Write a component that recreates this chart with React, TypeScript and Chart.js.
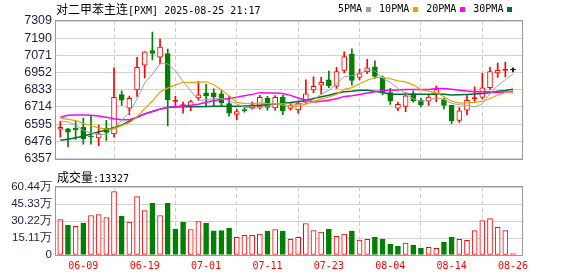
import React, { useEffect, useRef } from 'react';
import { Chart, registerables } from 'chart.js';

Chart.register(...registerables);

// ---------- data ----------
const dates = [
  '06-04', '06-05', '06-06', '06-09', '06-10', '06-11', '06-12', '06-13', '06-16', '06-17',
  '06-18', '06-19', '06-20', '06-23', '06-24', '06-25', '06-26', '06-27', '06-30', '07-01',
  '07-02', '07-03', '07-04', '07-07', '07-08', '07-09', '07-10', '07-11', '07-14', '07-15',
  '07-16', '07-17', '07-18', '07-21', '07-22', '07-23', '07-24', '07-25', '07-28', '07-29',
  '07-30', '07-31', '08-01', '08-04', '08-05', '08-06', '08-07', '08-08', '08-11', '08-12',
  '08-13', '08-14', '08-15', '08-18', '08-19', '08-20', '08-21', '08-22', '08-25', '08-26',
];
const opens = [
  6560, 6562, 6566, 6573, 6511, 6500, 6566, 6527, 6800, 6705,
  6831, 7003, 7104, 7058, 7084, 6752, 6723, 6716, 6776, 6811,
  6811, 6804, 6738, 6663, 6692, 6708, 6714, 6773, 6708, 6780,
  6703, 6694, 6747, 6831, 6864, 6901, 6857, 6967, 7078, 6919,
  6956, 6992, 6914, 6813, 6705, 6718, 6804, 6760, 6754, 6802,
  6765, 6725, 6621, 6692, 6772, 6780, 6848, 6950, 6967, 6970,
];
const highs = [
  6615, 6566, 6615, 6636, 6650, 6588, 6621, 6985, 6826, 6789,
  7058, 7097, 7232, 7183, 7114, 6787, 6747, 6760, 6892, 6870,
  6840, 6826, 6787, 6699, 6710, 6747, 6795, 6787, 6793, 6795,
  6743, 6747, 6901, 6923, 6919, 6963, 6989, 7095, 7117, 6978,
  7044, 7033, 6930, 6842, 6747, 6813, 6826, 6776, 6798, 6859,
  6776, 6725, 6710, 6793, 6853, 6947, 6989, 7018, 7025, 6985,
];
const lows = [
  6505, 6438, 6489, 6456, 6456, 6445, 6482, 6505, 6725, 6660,
  6787, 6915, 7040, 7011, 6582, 6725, 6670, 6688, 6760, 6714,
  6716, 6716, 6650, 6626, 6677, 6699, 6699, 6692, 6692, 6661,
  6692, 6670, 6738, 6813, 6800, 6848, 6842, 6952, 6864, 6901,
  6945, 6912, 6798, 6732, 6688, 6681, 6747, 6716, 6725, 6751,
  6699, 6599, 6606, 6661, 6754, 6769, 6835, 6919, 6923, 6956,
];
const closes = [
  6573, 6540, 6555, 6494, 6506, 6527, 6538, 6780, 6760, 6773,
  6989, 7095, 7084, 7128, 6765, 6753, 6727, 6751, 6797, 6790,
  6785, 6743, 6670, 6681, 6689, 6729, 6780, 6710, 6780, 6688,
  6727, 6741, 6804, 6857, 6884, 6859, 6959, 7062, 6897, 6945,
  6985, 6926, 6813, 6758, 6732, 6791, 6758, 6729, 6782, 6835,
  6725, 6617, 6687, 6760, 6776, 6846, 6959, 6967, 6969, 6970,
];
const volumes = [
  315000, 265000, 254000, 283000, 351000, 360000, 333000, 563000, 345000, 292000,
  519000, 395000, 460000, 351000, 460000, 230000, 292000, 227000, 298000, 283000,
  215000, 218000, 239000, 156000, 174000, 174000, 186000, 212000, 227000, 212000,
  139000, 156000, 280000, 218000, 203000, 230000, 165000, 186000, 212000, 133000,
  139000, 159000, 142000, 97000, 80000, 106000, 88000, 62000, 68000, 59000,
  115000, 159000, 139000, 130000, 218000, 307000, 324000, 245000, 218000, 13327,
];
const ma5 = [
  6617, 6610, 6588, 6551, 6534, 6524, 6524, 6569, 6622, 6676,
  6768, 6879, 6940, 7014, 7012, 6965, 6891, 6825, 6759, 6764,
  6770, 6773, 6757, 6734, 6714, 6702, 6710, 6718, 6738, 6737,
  6737, 6729, 6748, 6763, 6803, 6829, 6873, 6924, 6932, 6944,
  6970, 6963, 6913, 6885, 6843, 6804, 6770, 6754, 6758, 6779,
  6766, 6738, 6729, 6725, 6713, 6737, 6806, 6862, 6903, 6942,
];
const ma10 = [
  6637, 6628, 6619, 6601, 6584, 6569, 6560, 6562, 6585, 6605,
  6646, 6702, 6755, 6818, 6844, 6867, 6885, 6883, 6886, 6888,
  6868, 6832, 6791, 6746, 6739, 6736, 6742, 6737, 6736, 6726,
  6720, 6720, 6733, 6751, 6770, 6783, 6801, 6836, 6848, 6874,
  6899, 6918, 6919, 6909, 6894, 6887, 6867, 6833, 6822, 6811,
  6785, 6754, 6741, 6742, 6746, 6752, 6772, 6795, 6814, 6828,
];
const ma20 = [
  6643, 6657, 6659, 6659, 6657, 6652, 6643, 6632, 6626, 6626,
  6643, 6666, 6683, 6699, 6710, 6716, 6721, 6725, 6732, 6746,
  6757, 6767, 6773, 6782, 6791, 6801, 6813, 6810, 6811, 6807,
  6794, 6776, 6762, 6748, 6754, 6760, 6771, 6787, 6792, 6800,
  6810, 6819, 6826, 6830, 6832, 6835, 6834, 6835, 6835, 6842,
  6842, 6836, 6830, 6825, 6820, 6819, 6819, 6814, 6818, 6819,
];
const ma30 = [
  6483, 6491, 6500, 6511, 6527, 6540, 6555, 6571, 6588, 6615,
  6643, 6666, 6683, 6699, 6712, 6714, 6715, 6716, 6716, 6717,
  6718, 6718, 6719, 6719, 6720, 6722, 6726, 6729, 6734, 6739,
  6744, 6751, 6759, 6772, 6784, 6795, 6809, 6819, 6823, 6829,
  6829, 6823, 6814, 6802, 6801, 6802, 6803, 6802, 6802, 6803,
  6801, 6797, 6798, 6800, 6803, 6807, 6813, 6822, 6828, 6837,
];
const priceTicks = [6357, 6476, 6595, 6714, 6833, 6952, 7071, 7190, 7309];
const volumeTicks = [0, 151100, 302200, 453300, 604400];
const dateTickIdx = [3, 11, 19, 27, 35, 43, 51, 59];
const titleName = '对二甲苯主连';
const titleCode = '[PXM] 2025-08-25 21:17';
const volumeName = '成交量';
const maLabels = ['5PMA', '10PMA', '20PMA', '30PMA'];
const maSeries = [ma5, ma10, ma20, ma30];

// ---------- style ----------
const RED = '#ff0000';
const GREEN = '#008000';
const BLACK = '#000000';
const MA_COLORS = ['#a0a0a0', '#f0a000', '#ff00ff', '#006f30'];
const MA_WIDTHS = [1, 1.2, 1.5, 1.5];
const AXIS_TEXT = '#1e1e46';
const GRID = '#d2d2d2';
const X_MIN = -0.56;
const X_MAX = 60.17;
const AXIS_W = 56;

const candleColor = (i: number) => {
  const d = closes[i] - opens[i];
  return d > 0 ? RED : d < 0 ? GREEN : BLACK;
};
const bodyFill = (i: number) => {
  const d = closes[i] - opens[i];
  return d > 12 ? '#ffffff' : candleColor(i);
};
const volUp = (i: number) => closes[i] >= (i === 0 ? opens[0] : closes[i - 1]);

const framePlugin = {
  id: 'frame',
  afterDraw(chart: any) {
    const { ctx, chartArea: a } = chart;
    ctx.save();
    ctx.strokeStyle = '#999999';
    ctx.lineWidth = 1;
    ctx.strokeRect(Math.round(a.left) - 0.5, Math.round(a.top) - 0.5, Math.round(a.width) + 1, Math.round(a.height) + 1);
    ctx.restore();
  },
};

const xScale = (showLabels: boolean) => ({
  type: 'linear',
  min: X_MIN,
  max: X_MAX,
  offset: false,
  afterBuildTicks: (s: any) => {
    s.ticks = dateTickIdx.map((v) => ({ value: v }));
  },
  afterFit: (s: any) => {
    s.height = showLabels ? 21 : 0;
  },
  ticks: {
    display: showLabels,
    autoSkip: false,
    maxRotation: 0,
    color: RED,
    padding: 5,
    font: { family: '"DejaVu Sans Mono", monospace', size: 10 },
    callback: (v: any) => dates[v] ?? '',
  },
  grid: { color: '#cccccc', lineWidth: 1, drawTicks: false },
  border: { display: false, dash: [4, 3] },
});

const yScale = (ticks: number[], fontSize: number, fmt: (v: number) => string) => ({
  min: ticks[0],
  max: ticks[ticks.length - 1],
  afterBuildTicks: (s: any) => {
    s.ticks = ticks.map((v) => ({ value: v }));
  },
  afterFit: (s: any) => {
    s.width = AXIS_W;
  },
  ticks: {
    autoSkip: false,
    color: AXIS_TEXT,
    padding: 4,
    font: { family: '"Liberation Sans", Arial, sans-serif', size: fontSize },
    callback: (v: any) => fmt(v),
  },
  grid: { color: GRID, drawTicks: false },
  border: { display: false },
});

export default function App() {
  const mainRef = useRef<HTMLCanvasElement>(null);
  const volRef = useRef<HTMLCanvasElement>(null);

  useEffect(() => {
    const idx = closes.map((_, i) => i);
    const main = new Chart(mainRef.current as HTMLCanvasElement, {
      type: 'bar',
      data: {
        datasets: [
          ...maSeries.map((s, k) => ({
            type: 'line',
            label: maLabels[k],
            data: s.map((v, i) => ({ x: i, y: v })),
            borderColor: MA_COLORS[k],
            borderWidth: MA_WIDTHS[k],
            pointRadius: 0,
            fill: false,
            order: 0,
          })),
          {
            type: 'bar',
            label: 'body',
            data: idx.map((i) => ({ x: i, y: [opens[i], closes[i]] })),
            backgroundColor: idx.map(bodyFill),
            borderColor: idx.map(candleColor),
            borderWidth: 1,
            borderSkipped: false,
            barThickness: 5,
            minBarLength: 1,
            grouped: false,
            order: 2,
          },
          {
            type: 'bar',
            label: 'wick',
            data: idx.map((i) => ({ x: i, y: [lows[i], highs[i]] })),
            backgroundColor: idx.map(candleColor),
            borderWidth: 0,
            barThickness: 1,
            grouped: false,
            order: 3,
          },
        ],
      } as any,
      options: {
        animation: false,
        responsive: false,
        events: [],
        layout: { padding: { left: 0, right: 56, top: 21, bottom: 5 } },
        plugins: { legend: { display: false }, tooltip: { enabled: false } },
        scales: {
          x: xScale(false) as any,
          y: yScale(priceTicks, 12.5, (v) => String(v)) as any,
        },
      } as any,
      plugins: [framePlugin],
    });

    const vol = new Chart(volRef.current as HTMLCanvasElement, {
      type: 'bar',
      data: {
        datasets: [
          {
            label: volumeName,
            data: volumes.map((v, i) => ({ x: i, y: v })),
            backgroundColor: idx.map((i) => (volUp(i) ? '#ffffff' : GREEN)),
            borderColor: idx.map((i) => (volUp(i) ? RED : GREEN)),
            borderWidth: 1,
            borderSkipped: false,
            barThickness: 5,
            grouped: false,
          },
        ],
      } as any,
      options: {
        animation: false,
        responsive: false,
        events: [],
        layout: { padding: { left: 0, right: 56, top: 17, bottom: 0 } },
        plugins: { legend: { display: false }, tooltip: { enabled: false } },
        scales: {
          x: xScale(true) as any,
          y: yScale(volumeTicks, 11.5, (v) => (v === 0 ? '0' : (v / 10000).toFixed(2) + '万')) as any,
        },
      } as any,
      plugins: [framePlugin],
    });

    return () => {
      main.destroy();
      vol.destroy();
    };
  }, []);

  const cjk = { fontFamily: '"Noto Sans CJK SC", sans-serif', fontSize: 12 };
  const mono = { fontFamily: '"DejaVu Sans Mono", monospace', fontSize: 10 };

  return (
    <div style={{ position: 'absolute', left: 0, top: 0, width: 578, height: 276, background: '#ffffff', overflow: 'hidden' }}>
      <canvas ref={mainRef} width={578} height={170} style={{ position: 'absolute', left: 0, top: 0, display: 'block' }} />
      <canvas ref={volRef} width={578} height={106} style={{ position: 'absolute', left: 0, top: 170, display: 'block' }} />
      <div style={{ position: 'absolute', left: 56, top: 1, lineHeight: '16px', whiteSpace: 'nowrap', color: '#000' }}>
        <span style={cjk}>{titleName}</span>
        <span style={mono}>{titleCode}</span>
      </div>
      <div style={{ position: 'absolute', left: 338, top: 1, lineHeight: '16px', whiteSpace: 'nowrap', color: '#000', display: 'flex', alignItems: 'center' }}>
        {maLabels.map((l, k) => (
          <React.Fragment key={l}>
            <span style={mono}>{l}</span>
            <span style={{ display: 'inline-block', width: 5, height: 5, background: MA_COLORS[k], marginLeft: 4, marginRight: k < 3 ? 8 : 0 }} />
          </React.Fragment>
        ))}
      </div>
      <div style={{ position: 'absolute', left: 57, top: 169, lineHeight: '16px', whiteSpace: 'nowrap', color: '#000' }}>
        <span style={cjk}>{volumeName}</span>
        <span style={mono}>{':' + volumes[volumes.length - 1]}</span>
      </div>
    </div>
  );
}
